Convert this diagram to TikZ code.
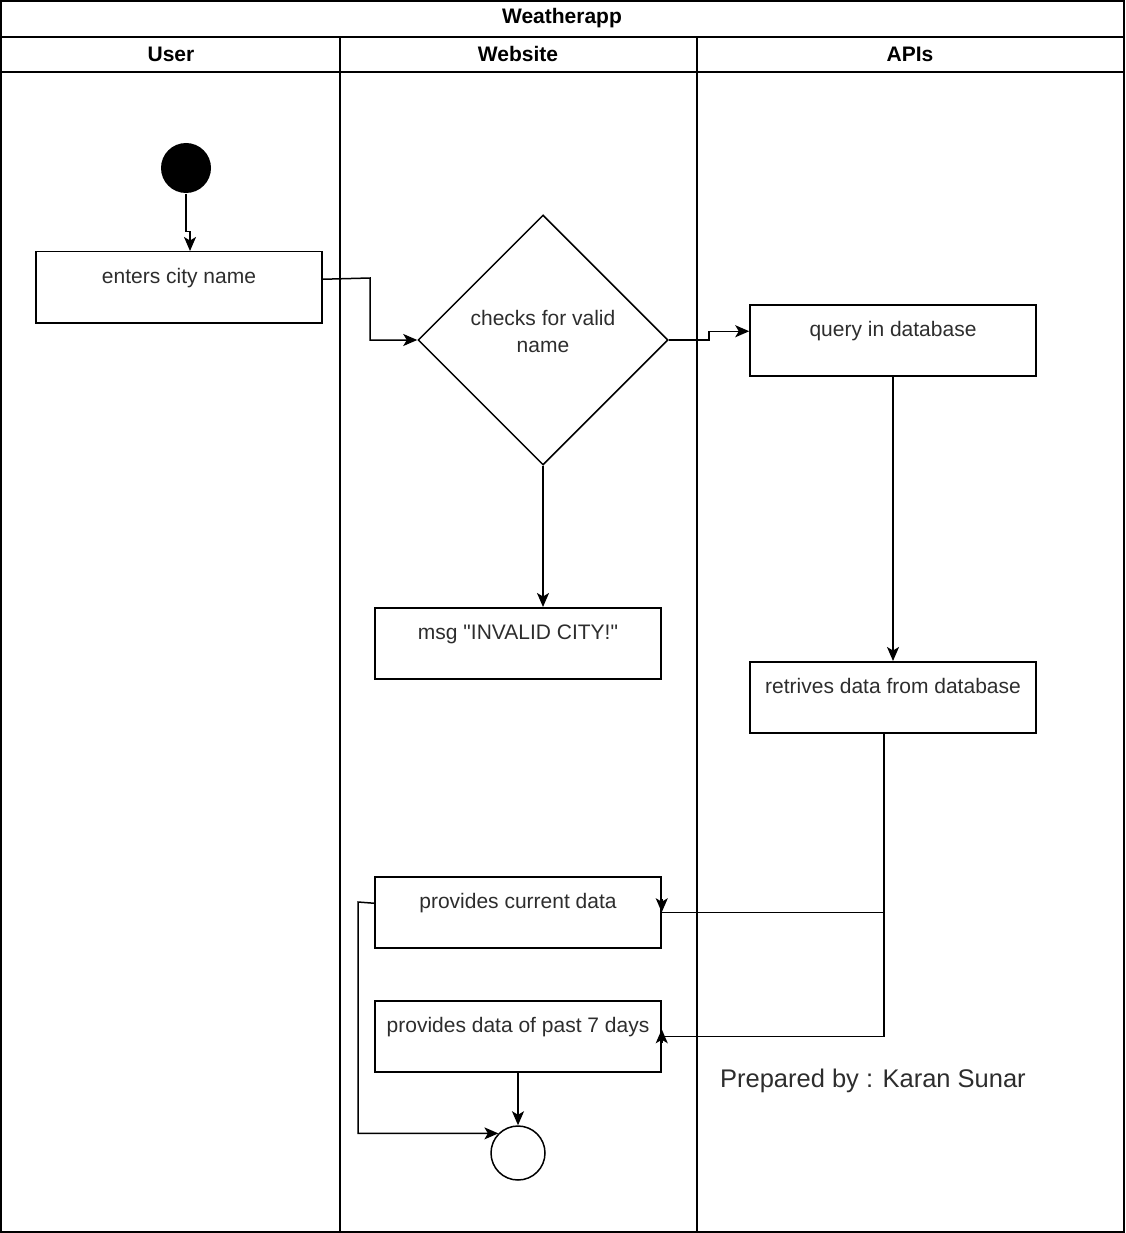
\documentclass[tikz,border=0pt]{standalone}
\usepackage{fontspec}
\setmainfont{Liberation Sans}[Ligatures=TeXOff]
\usetikzlibrary{arrows.meta,shapes.geometric,calc}
\definecolor{txt}{RGB}{45,45,45}
\begin{document}
\begin{tikzpicture}[x=1pt,y=-1pt,line width=1.5pt,
  lbl/.style={font=\fontsize{21}{27}\selectfont\color{txt}},
  head/.style={font=\fontsize{21}{27}\selectfont\bfseries},
  actbox/.style={draw,lbl,minimum width=286,inner xsep=0,inner ysep=0,
    text height=32,text depth=39},
  arr/.style={-{Stealth[length=14pt,width=12pt,inset=3.5pt]}}]
\useasboundingbox (0,0) rectangle (1125,1233);

% swimlane frame
\draw (1,1) rectangle (1124,1232);
\draw (1,37) -- (1124,37);
\draw (1,72) -- (1124,72);
\draw (340,37) -- (340,1232);
\draw (697,37) -- (697,1232);
\node[head] (title) at (562,18) {Weatherapp};
\node[head] (laneU) at (171,54) {User};
\node[head] (laneW) at (518,54) {Website};
\node[head] (laneA) at (910,54) {APIs};

% activity nodes
\node[circle,fill=black,minimum size=50,inner sep=0] (start) at (186,168) {};
\node[actbox,anchor=north] (enter) at (179,251) {enters city name};
\node[diamond,draw,minimum width=250,minimum height=250,inner sep=0,
  label={[lbl,align=center,yshift=9pt]center:checks for valid\\name}] (check) at (543,340) {};
\node[actbox,anchor=north] (query) at (893,304) {query in database};
\node[actbox,anchor=north] (msg) at (518,607) {msg "INVALID CITY!"};
\node[actbox,anchor=north] (ret) at (893,661) {retrives data from database};
\node[actbox,anchor=north] (cur) at (518,876) {provides current data};
\node[actbox,anchor=north] (past) at (518,1000) {provides data of past 7 days};
\node[circle,draw,minimum size=54,inner sep=0] (stop) at (518,1153) {};
\node[anchor=base west,font=\fontsize{25.5}{30}\selectfont\color{txt}] (credit)
  at (716,1087) {Prepared by : Karan Sunar};

% flow
\coordinate (s1) at (190,251);
\draw[arr] (start.south) -- ++(0,38) -| (s1);
\draw[arr] ($(enter.east)+(0,-8)$) -- (370,278) |- (check.west);
\draw[arr] (check.east) -- (709,340) |- ($(query.west)+(0,-9)$);
\draw[arr] (check.south) -- (check.south |- msg.north);
\draw[arr] (query.south) -- (ret.north);

% retrieved data fans out to both outputs
\coordinate (r0) at ($(ret.south)+(-9,0)$);
\draw (r0) -- (r0 |- cur.east) -- (cur.east);
\draw[arr] ($(cur.east)+(0,-13)$) -- (cur.east);
\draw (r0) -- (r0 |- past.east) -- (past.east);
\draw[arr] ($(past.east)+(0,7)$) -- ($(past.east)+(0,-7)$);

% both outputs end the flow
\draw[arr] ($(cur.west)+(0,-9)$) -- (358,902) |- (stop.135);
\draw[arr] (past.south) -- (stop.north);
\end{tikzpicture}
\end{document}
